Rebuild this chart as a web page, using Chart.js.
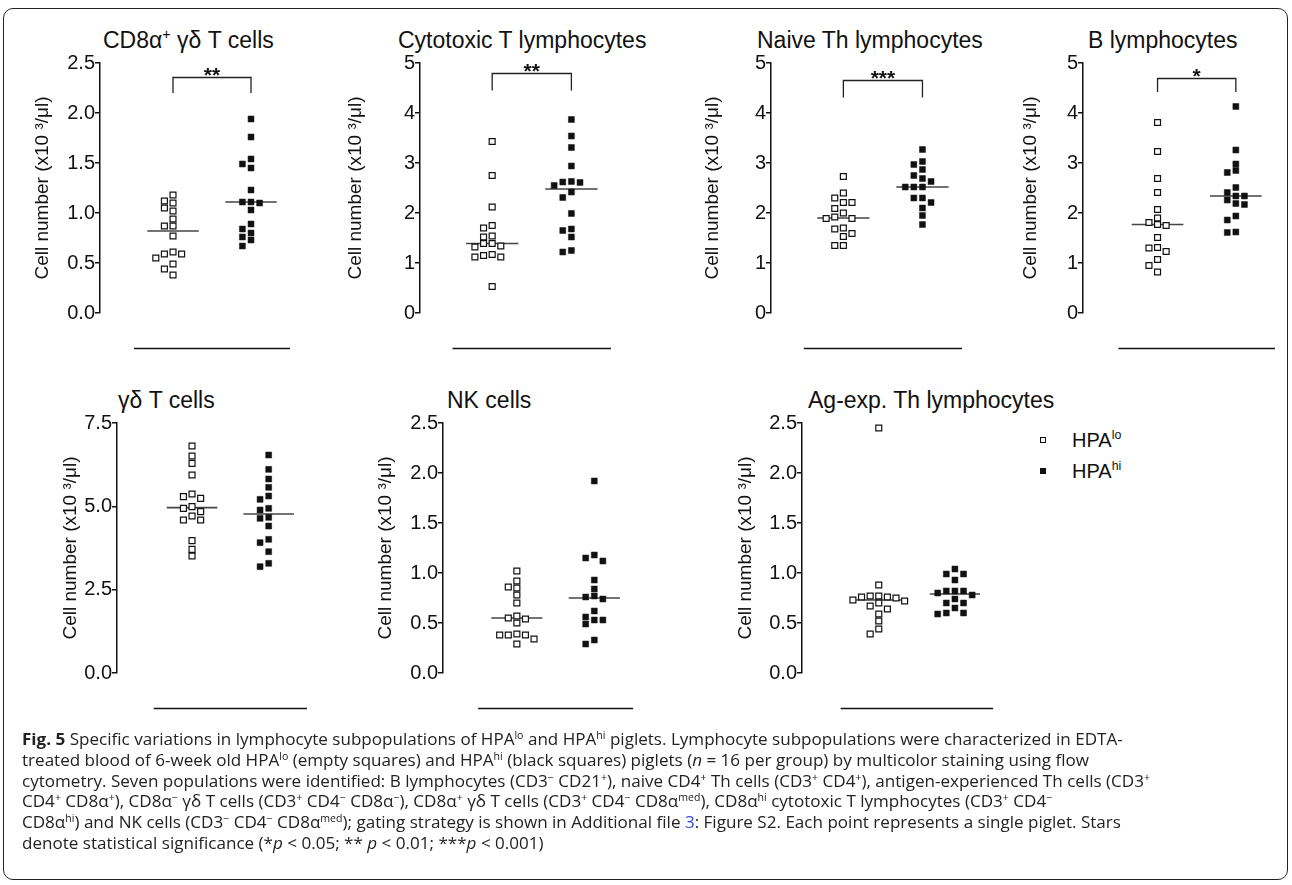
<!DOCTYPE html>
<html>
<head>
<meta charset="utf-8">
<script src="https://cdn.jsdelivr.net/npm/chart.js@4.4.1/dist/chart.umd.min.js"></script>
<style>
  body { margin:0; background:#fff; width:1292px; height:885px; position:relative; overflow:hidden;
         font-family:"Liberation Sans", Arial, sans-serif; color:#111; }
  .frame { position:absolute; left:3px; top:8px; width:1285px; height:872px; border:1.5px solid #222;
           border-radius:10px; box-sizing:border-box; }
  .ttl { position:absolute; font-size:23px; line-height:26px; white-space:nowrap; }
  .ttl sup, .leg sup { font-size:0.62em; line-height:0; vertical-align:0.62em; }
  canvas { position:absolute; }
  .leg { position:absolute; font-size:20px; line-height:22px; white-space:nowrap; }
  .sq { position:absolute; width:6px; height:6px; box-sizing:border-box; border:1px solid #111; }
  .cap { position:absolute; left:22px; font-family:"Open Sans", sans-serif; font-size:16px; line-height:20.8px;
         white-space:nowrap; transform-origin:0 0; color:#222; }
  .cap sup { font-size:0.62em; line-height:0; vertical-align:0.6em; }
  .lnk { color:#2f45d8; }
</style>
</head>
<body>
<div class="frame"></div>
<div id="panels"></div>

<div class="sq" style="left:1040px;top:437px;background:#fff"></div>
<div class="leg" style="left:1072px;top:429px">HPA<sup>lo</sup></div>
<div class="sq" style="left:1040px;top:468px;background:#111"></div>
<div class="leg" style="left:1072px;top:460px">HPA<sup>hi</sup></div>

<div id="caption">
<div class="cap"><b>Fig. 5</b> Specific variations in lymphocyte subpopulations of HPA<sup>lo</sup> and HPA<sup>hi</sup> piglets. Lymphocyte subpopulations were characterized in EDTA-</div>
<div class="cap">treated blood of 6-week old HPA<sup>lo</sup> (empty squares) and HPA<sup>hi</sup> (black squares) piglets (<i>n</i> = 16 per group) by multicolor staining using flow</div>
<div class="cap">cytometry. Seven populations were identified: B lymphocytes (CD3<sup>−</sup> CD21<sup>+</sup>), naive CD4<sup>+</sup> Th cells (CD3<sup>+</sup> CD4<sup>+</sup>), antigen-experienced Th cells (CD3<sup>+</sup></div>
<div class="cap">CD4<sup>+</sup> CD8α<sup>+</sup>), CD8α<sup>−</sup> γδ T cells (CD3<sup>+</sup> CD4<sup>−</sup> CD8α<sup>−</sup>), CD8α<sup>+</sup> γδ T cells (CD3<sup>+</sup> CD4<sup>−</sup> CD8α<sup>med</sup>), CD8α<sup>hi</sup> cytotoxic T lymphocytes (CD3<sup>+</sup> CD4<sup>−</sup></div>
<div class="cap">CD8α<sup>hi</sup>) and NK cells (CD3<sup>−</sup> CD4<sup>−</sup> CD8α<sup>med</sup>); gating strategy is shown in Additional file <span class="lnk">3</span>: Figure S2. Each point represents a single piglet. Stars</div>
<div class="cap">denote statistical significance (*<i>p</i> &lt; 0.05; ** <i>p</i> &lt; 0.01; ***<i>p</i> &lt; 0.001)</div>
</div>

<script>
// groups (x = 1, 2)
const categories = ['HPAlo', 'HPAhi'];

// cell numbers (x10^3/µl), one value per piglet
const cd8gdLo = [1.18,1.12,1.10,1.05,1.02,0.94,0.87,0.87,0.77,0.61,0.59,0.59,0.55,0.49,0.44,0.38];
const cd8gdHi = [1.94,1.76,1.54,1.49,1.45,1.23,1.11,1.11,1.10,1.03,0.89,0.84,0.80,0.76,0.73,0.67];
const ctlLo = [3.43,2.75,2.12,1.75,1.70,1.54,1.52,1.39,1.39,1.34,1.32,1.17,1.15,1.12,1.12,0.53];
const ctlHi = [3.87,3.54,3.31,2.94,2.63,2.62,2.61,2.55,2.42,2.31,1.99,1.68,1.65,1.52,1.25,1.22];
const naiveLo = [2.73,2.40,2.30,2.21,2.21,2.09,2.00,1.92,1.89,1.89,1.70,1.68,1.59,1.53,1.35,1.35];
const naiveHi = [3.27,3.03,2.97,2.87,2.75,2.69,2.63,2.52,2.52,2.52,2.30,2.30,2.21,2.10,1.95,1.77];
const bLo = [3.81,3.23,2.69,2.41,2.07,1.90,1.81,1.77,1.75,1.51,1.31,1.30,1.23,1.07,0.95,0.82];
const bHi = [4.13,3.26,2.98,2.85,2.81,2.51,2.41,2.34,2.34,2.26,2.19,2.17,1.94,1.86,1.62,1.61];
const gdLo = [6.81,6.51,6.29,5.94,5.37,5.29,5.24,4.99,4.94,4.84,4.71,4.59,4.59,3.97,3.71,3.51];
const gdHi = [6.54,6.11,5.82,5.57,5.31,5.21,4.94,4.89,4.67,4.64,4.41,4.01,3.91,3.64,3.29,3.19];
const nkLo = [1.02,0.92,0.86,0.85,0.78,0.70,0.57,0.55,0.54,0.50,0.39,0.38,0.38,0.38,0.34,0.29];
const nkHi = [1.92,1.18,1.15,1.12,0.93,0.84,0.77,0.76,0.74,0.62,0.56,0.53,0.53,0.49,0.33,0.29];
const agLo = [2.45,0.88,0.77,0.77,0.76,0.76,0.75,0.73,0.72,0.70,0.67,0.64,0.59,0.52,0.44,0.39];
const agHi = [1.04,0.99,0.99,0.93,0.82,0.82,0.82,0.80,0.78,0.74,0.70,0.70,0.65,0.60,0.60,0.59];

// median bars
const medLo = [0.82,1.39,1.90,1.77,4.96,0.55,0.73];
const medHi = [1.11,2.48,2.52,2.34,4.77,0.75,0.79];

const titles = ['CD8α<sup>+</sup> γδ T cells','Cytotoxic T lymphocytes','Naive Th lymphocytes','B lymphocytes',
                'γδ T cells','NK cells','Ag-exp. Th lymphocytes'];
const yMax = [2.5,5,5,5,7.5,2.5,2.5];
const yStep = [0.5,1,1,1,2.5,0.5,0.5];
const yDecimals = [1,0,0,0,1,1,1];
const sigLabels = ['**','**','***','*','','',''];
const loSets = [cd8gdLo,ctlLo,naiveLo,bLo,gdLo,nkLo,agLo];
const hiSets = [cd8gdHi,ctlHi,naiveHi,bHi,gdHi,nkHi,agHi];

// page layout for each panel
const boxes = [
  {axisX:100,   top:0,   xMin:0.064,  right:290,    yw:73, tx:103,  brTop:2.36, brLeg:2.20},
  {axisX:420,   top:0,   xMin:0.089,  right:610.5,  yw:80, tx:398,  brTop:4.81, brLeg:4.45},
  {axisX:770.7, top:0,   xMin:0.085,  right:961.5,  yw:74, tx:757,  brTop:4.65, brLeg:4.31},
  {axisX:1083.3,top:0,   xMin:0.048,  right:1275.7, yw:68, tx:1088, brTop:4.71, brLeg:4.42},
  {axisX:116.7, top:360, xMin:0.021,  right:306.6,  yw:62, tx:118},
  {axisX:442.7, top:360, xMin:0.046,  right:633,    yw:73, tx:447},
  {axisX:801.7, top:360, xMin:-0.008, right:992.3,  yw:72, tx:808}
];

const PAD_TOP = 63, CANVAS_H = 370, PAD_BOTTOM = 57, PAD_RIGHT = 12;
const PLOT_H = CANVAS_H - PAD_TOP - PAD_BOTTOM;

Chart.defaults.font.family = '"Liberation Sans", Arial, sans-serif';
Chart.defaults.color = '#111';

// spread tied points sideways like a column scatter
function swarm(vals, center, pxY, pxX) {
  const placed = [];
  return vals.map(v => {
    const y = v * pxY;
    let col = 0;
    for (const c of [0,-1,1,-2,2,-3,3]) {
      if (!placed.some(p => p.c === c && Math.abs(p.y - y) < 6.5)) { col = c; break; }
    }
    placed.push({c: col, y: y});
    return {x: center + col * 8.6 / pxX, y: v};
  });
}

const extras = {
  id: 'extras',
  afterDraw(chart, args, opts) {
    const ctx = chart.ctx, xs = chart.scales.x, ys = chart.scales.y;
    ctx.save();
    ctx.strokeStyle = '#111';
    ctx.lineWidth = 1.5;
    const yb = Math.round(chart.chartArea.bottom + 35) + 0.5;
    ctx.beginPath();
    ctx.moveTo(xs.getPixelForValue(0.5), yb);
    ctx.lineTo(xs.getPixelForValue(2.5), yb);
    ctx.stroke();
    if (opts.label) {
      const x1 = xs.getPixelForValue(1), x2 = xs.getPixelForValue(2);
      const yt = Math.round(ys.getPixelForValue(opts.top)) + 0.5, yl = ys.getPixelForValue(opts.leg);
      ctx.lineWidth = 1.3;
      ctx.strokeStyle = '#222';
      ctx.beginPath();
      ctx.moveTo(x1, yl); ctx.lineTo(x1, yt); ctx.lineTo(x2, yt); ctx.lineTo(x2, yl);
      ctx.stroke();
      ctx.fillStyle = '#111';
      ctx.font = 'bold 21px "Liberation Sans", Arial, sans-serif';
      ctx.textAlign = 'center';
      ctx.textBaseline = 'alphabetic';
      ctx.fillText(opts.label, (x1 + x2) / 2, yt + 4);
    }
    ctx.restore();
  }
};

const holder = document.getElementById('panels');
boxes.forEach((b, i) => {
  const t = document.createElement('div');
  t.className = 'ttl';
  t.style.left = b.tx + 'px';
  t.style.top = (b.top + 27) + 'px';
  t.innerHTML = titles[i];
  holder.appendChild(t);

  const left = b.axisX - b.yw;
  const w = Math.round(b.right - left + PAD_RIGHT);
  const cv = document.createElement('canvas');
  cv.width = w; cv.height = CANVAS_H;
  cv.style.left = left + 'px';
  cv.style.top = b.top + 'px';
  holder.appendChild(cv);

  const pxX = (b.right - b.axisX) / (2.5 - b.xMin);
  const pxY = PLOT_H / yMax[i];
  const loPts = swarm(loSets[i], 1, pxY, pxX);
  const hiPts = swarm(hiSets[i], 2, pxY, pxX);

  new Chart(cv, {
    type: 'scatter',
    data: {
      datasets: [
        { label: categories[0], data: loPts, order: 0, pointStyle: 'rect', pointRadius: 4.2,
          backgroundColor: '#fff', borderColor: '#111', borderWidth: 1.2 },
        { label: categories[1], data: hiPts, order: 0, pointStyle: 'rect', pointRadius: 4.2,
          backgroundColor: '#111', borderColor: '#111', borderWidth: 0.5 },
        { data: [{x:0.67, y:medLo[i]}, {x:1.33, y:medLo[i]}], order: 1, showLine: true,
          pointRadius: 0, borderColor: '#444', borderWidth: 1.6 },
        { data: [{x:1.67, y:medHi[i]}, {x:2.33, y:medHi[i]}], order: 1, showLine: true,
          pointRadius: 0, borderColor: '#444', borderWidth: 1.6 }
      ]
    },
    options: {
      responsive: false,
      animation: false,
      devicePixelRatio: 1,
      clip: false,
      layout: { padding: { left: 0, right: PAD_RIGHT, top: PAD_TOP, bottom: PAD_BOTTOM } },
      plugins: {
        legend: { display: false },
        tooltip: { enabled: false },
        extras: { label: sigLabels[i], top: b.brTop, leg: b.brLeg }
      },
      scales: {
        x: { type: 'linear', display: false, min: b.xMin, max: 2.5 },
        y: {
          min: 0, max: yMax[i],
          afterFit: s => { s.width = b.yw; },
          border: { display: true, color: '#111', width: 1.5 },
          grid: { drawOnChartArea: false, drawTicks: true, tickLength: 5, color: '#111', lineWidth: 1.5 },
          ticks: { stepSize: yStep[i], padding: 0, font: { size: 20 }, color: '#111',
                   callback: v => Number(v).toFixed(yDecimals[i]) },
          title: { display: true, text: 'Cell number (x10 ³/μl)', font: { size: 19 }, color: '#111',
                   padding: { top: 4, bottom: 4 } }
        }
      }
    },
    plugins: [extras]
  });
});

// caption: stack lines and squeeze them to the printed width
const lines = document.querySelectorAll('.cap');
const natural = lines[2].getBoundingClientRect().width;
const sx = (1150 - 22) / natural;
lines.forEach((el, k) => {
  el.style.top = (729 + k * 20.8) + 'px';
  el.style.transform = 'scaleX(' + sx.toFixed(4) + ')';
});
</script>
</body>
</html>
